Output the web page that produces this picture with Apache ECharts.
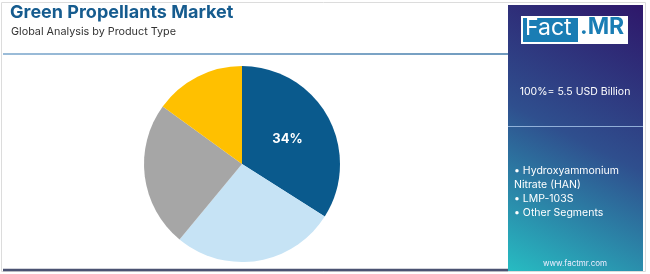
<!DOCTYPE html>
<html>
<head>
<meta charset="utf-8">
<script src="https://cdn.jsdelivr.net/npm/echarts@6/dist/echarts.min.js"></script>
<style>html,body{margin:0;padding:0;background:#fff}#c{width:650px;height:274px}</style>
</head>
<body>
<div id="c"></div>
<script>
const categories = ['Hydroxyammonium Nitrate (HAN)', 'LMP-103S', 'Other Segments', 'ADN'];
const shares = [34, 27, 24, 15];
const colors = ['#0a5a8d', '#c6e3f5', '#a6a6a6', '#ffc000'];
const legendItems = ['• Hydroxyammonium', 'Nitrate (HAN)', '• LMP-103S', '• Other Segments'];
const titleText = 'Green Propellants Market';
const subtitleText = 'Global Analysis by Product Type';
const totalText = '100%= 5.5 USD Billion';

const FONT = 'Inter, "Open Sans", sans-serif';
const chart = echarts.init(document.getElementById('c'));
chart.setOption({
  animation: false,
  graphic: [
    { type: 'rect', shape: { x: 1.5, y: 2.5, width: 644, height: 269 }, style: { fill: 'none', stroke: '#dcdcdc', lineWidth: 1 }, z: 0 },
    { type: 'text', left: 10, top: 4, style: { text: titleText, font: 'bold 18px ' + FONT, fill: '#165c8f' } },
    { type: 'text', left: 11, top: 26, style: { text: subtitleText, font: '10.8px ' + FONT, fill: '#333' } },
    { type: 'line', shape: { x1: 3, y1: 54, x2: 508, y2: 54 }, style: { stroke: new echarts.graphic.LinearGradient(0, 0, 1, 0, [{ offset: 0, color: '#7aa6cc' }, { offset: 1, color: '#3f78a8' }]), lineWidth: 1.5 } },
    { type: 'line', shape: { x1: 3, y1: 270, x2: 508, y2: 270 }, style: { stroke: '#4a5272', lineWidth: 2.5 } },
    { type: 'rect', shape: { x: 508, y: 5, width: 135, height: 266 }, style: { fill: new echarts.graphic.LinearGradient(1, 0, 0, 1, [{ offset: 0, color: '#2e176a' }, { offset: 0.5, color: '#2f4f8e' }, { offset: 1, color: '#27bcc2' }]) }, z: 1 },
    { type: 'rect', shape: { x: 521, y: 16, width: 107, height: 28 }, style: { fill: '#fff' }, z: 2 },
    { type: 'rect', shape: { x: 523, y: 18, width: 55, height: 24 }, style: { fill: '#1a7db4' }, z: 3 },
    { type: 'text', left: 525, top: 17, style: { text: 'Fact', font: '23px ' + FONT, fill: '#fff' }, z: 4 },
    { type: 'text', left: 580, top: 16, style: { text: '.MR', font: 'bold 23px ' + FONT, fill: '#1a7db4' }, z: 4 },
    { type: 'text', x: 575, y: 92, style: { text: totalText, font: '10.5px ' + FONT, fill: '#fff', align: 'center', verticalAlign: 'middle' }, z: 4 },
    { type: 'line', shape: { x1: 508, y1: 126.5, x2: 643, y2: 126.5 }, style: { stroke: 'rgba(170,200,235,0.8)', lineWidth: 1 }, z: 4 },
    { type: 'text', left: 514, top: 164, style: { text: legendItems.join('\n'), font: '10.5px ' + FONT, fill: '#fff', lineHeight: 14 }, z: 4 },
    { type: 'text', x: 575, y: 264, style: { text: 'www.factmr.com', font: '8px ' + FONT, fill: '#eef', align: 'center', verticalAlign: 'middle' }, z: 4 }
  ],
  series: [{
    type: 'pie',
    center: [242, 164],
    radius: 98,
    startAngle: 90,
    clockwise: true,
    silent: true,
    itemStyle: { borderWidth: 0 },
    label: {
      show: true, position: 'inside', color: '#fff', fontFamily: FONT, fontWeight: 'bold', fontSize: 13,
      formatter: p => p.dataIndex === 0 ? p.value + '%' : ''
    },
    labelLine: { show: false },
    data: categories.map((n, i) => ({ name: n, value: shares[i], itemStyle: { color: colors[i] } }))
  }]
});
</script>
</body>
</html>
